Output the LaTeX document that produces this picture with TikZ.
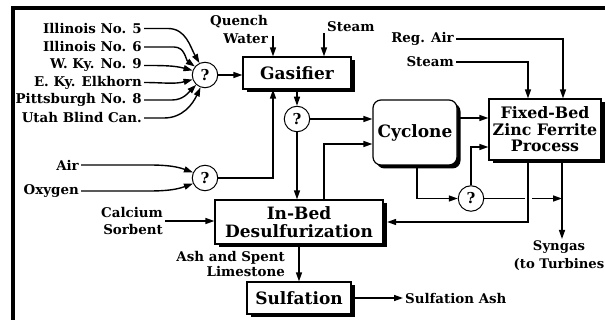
\documentclass[tikz,border=0pt]{standalone}
\usepackage{fontspec}
\setmainfont{DejaVu Serif}
\usetikzlibrary{arrows.meta,shadows,calc}
\begin{document}
\begin{tikzpicture}[x=1pt,y=1pt,
  lab/.style={font=\bfseries\fontsize{13.4}{17.5}\selectfont, inner sep=2pt},
  big/.style={font=\bfseries\fontsize{17}{18.5}\selectfont},
  box/.style={draw, line width=1.2pt, fill=white, inner sep=0pt, big, align=center,
    drop shadow={shadow xshift=3.5pt, shadow yshift=-3.5pt, fill=black, opacity=1}},
  qc/.style={circle, draw, line width=1pt, fill=white, minimum size=25.5pt, inner sep=0pt,
    font=\bfseries\fontsize{15}{15}\selectfont},
  arr/.style={line width=1.4pt, -{Triangle[length=9pt,width=6pt]}},
  gap/.style={white, line width=7pt}]
\useasboundingbox (0,0) rectangle (605,-320);
\draw[line width=4pt] (13,-320) -- (13,-8) -- (605,-8);

% coal labels
\node[lab, anchor=east] (il5) at (144,-28.5) {Illinois No. 5};
\node[lab, anchor=east] (il6) at (144,-47) {Illinois No. 6};
\node[lab, anchor=east] (wky) at (144,-65.5) {W. Ky. No. 9};
\node[lab, anchor=east] (elk) at (144,-82.5) {E. Ky. Elkhorn};
\node[lab, anchor=east] (pit) at (144,-100) {Pittsburgh No. 8};
\node[lab, anchor=east] (uta) at (144,-118) {Utah Blind Can.};
\node[qc] (q1) at (205,-75) {?};

% air / oxygen
\node[lab, anchor=east] (air) at (81,-165) {Air};
\node[lab, anchor=east] (oxy) at (81,-191) {Oxygen};
\node[qc] (q2) at (205,-178) {?};

% gasifier and feeds
\node[box, minimum width=108pt, minimum height=32pt] (gas) at (297,-73) {Gasifier};
\node[lab, align=right, anchor=east] (qw) at (270,-29.5) {Quench\\Water};
\coordinate (qwc) at (273,-36);
\node[lab, anchor=west] (st1) at (325,-27) {Steam};
\coordinate (st1c) at (324,-33);
\node[qc] (q3) at (297,-119) {?};

% cyclone, fixed bed
\node[box, rounded corners=8pt, minimum width=84pt, minimum height=65pt] (cyc) at (415,-132.5) {Cyclone};
\node[box, minimum width=112pt, minimum height=61pt, font=\bfseries\fontsize{15.8}{16.5}\selectfont] (fb) at (545,-129.5) {Fixed-Bed\\Zinc Ferrite\\Process};
\node[lab, anchor=east] (rega) at (456,-39) {Reg. Air};
\node[lab, anchor=east] (st2) at (456,-62) {Steam};
\node[qc] (q4) at (471,-198.5) {?};
\node[lab, align=center, anchor=north, font=\bfseries\fontsize{13.2}{18}\selectfont] (syn) at (559,-239) {Syngas\\(to Turbines};

% in-bed, sulfation
\node[box, minimum width=168pt, minimum height=44pt] (inb) at (299,-222) {In-Bed\\Desulfurization};
\node[lab, align=right, anchor=east] (cs) at (165,-221) {Calcium\\Sorbent};
\node[lab, align=right, anchor=east, font=\bfseries\fontsize{13.4}{15}\selectfont] (ash) at (287,-264.5) {Ash and Spent\\Limestone};
\node[box, minimum width=104pt, minimum height=32pt] (sul) at (299,-298) {Sulfation};
\node[lab, anchor=west] (sash) at (403,-299) {Sulfation Ash};

% helper coordinates
\coordinate (ib2) at (324,-144);
\coordinate (cf) at (0,-118);
\coordinate (xr) at (563,0);
\coordinate (xs) at (528,0);
\coordinate (xc) at (417,0);
\coordinate (y147) at (0,-147);
\coordinate (xg) at (562,0);

% coal connectors
\draw[arr] (il5.east) -- ++(24,0) to[out=0,in=120] (q1.115);
\draw[arr] (il6.east) -- ++(30,0) to[out=0,in=145] (q1.140);
\draw[arr] (wky.east) to[out=0,in=165] (q1.160);
\draw[arr] (elk.east) to[out=0,in=195] (q1.200);
\draw[arr] (pit.east) -- ++(28,0) to[out=0,in=225] (q1.228);
\draw[arr] (uta.east) -- ++(20,0) to[out=0,in=245] (q1.250);
\draw[arr] (q1.east) -- (q1.east -| gas.west);

\draw[arr] (air.east) -- ++(68,0) to[out=0,in=160] (q2.155);
\draw[arr] (oxy.east) -- ++(68,0) to[out=0,in=200] (q2.205);
\draw[arr] (q2.east) -| (qwc |- gas.south);

\draw[arr] (qwc) -- (qwc |- gas.north);
\draw[arr] (st1c) -- (st1c |- gas.north);
\draw[arr] (q3 |- gas.south) -- (q3.north);
\draw[arr] (q3.east) -- (q3.east -| cyc.west);
\draw[arr] (q3.south) -- (q3.south |- inb.north);
\draw[arr] (inb.north -| ib2) -- (ib2) -- (ib2 -| cyc.west);

\draw[arr] (cyc.east |- cf) -- (fb.west |- cf);
\draw[arr] (rega.east) -| (xr |- fb.north);
\draw[arr] (st2.east) -| (xs |- fb.north);
\draw[arr] (xc |- cyc.south) |- (q4.west);
\draw[arr] (q4.north) |- (fb.west |- y147);
\draw[arr] (q4.east) -- (q4.east -| xg);
\draw[gap] ($(xs |- q4)+(0,6)$) -- ($(xs |- q4)+(0,-6)$);
\draw[arr] (xs |- fb.south) |- ($(inb.east)+(3.5,0)$);
\draw[arr] (xg |- fb.south) -- (xg |- syn.north);

\draw[arr] (cs.east) -- (cs.east -| inb.west);
\draw[arr] (inb.south) -- (inb.south |- sul.north);
\draw[arr] ($(sul.east)+(3.5,0)$) -- (sul.east -| sash.west);
\end{tikzpicture}
\end{document}
